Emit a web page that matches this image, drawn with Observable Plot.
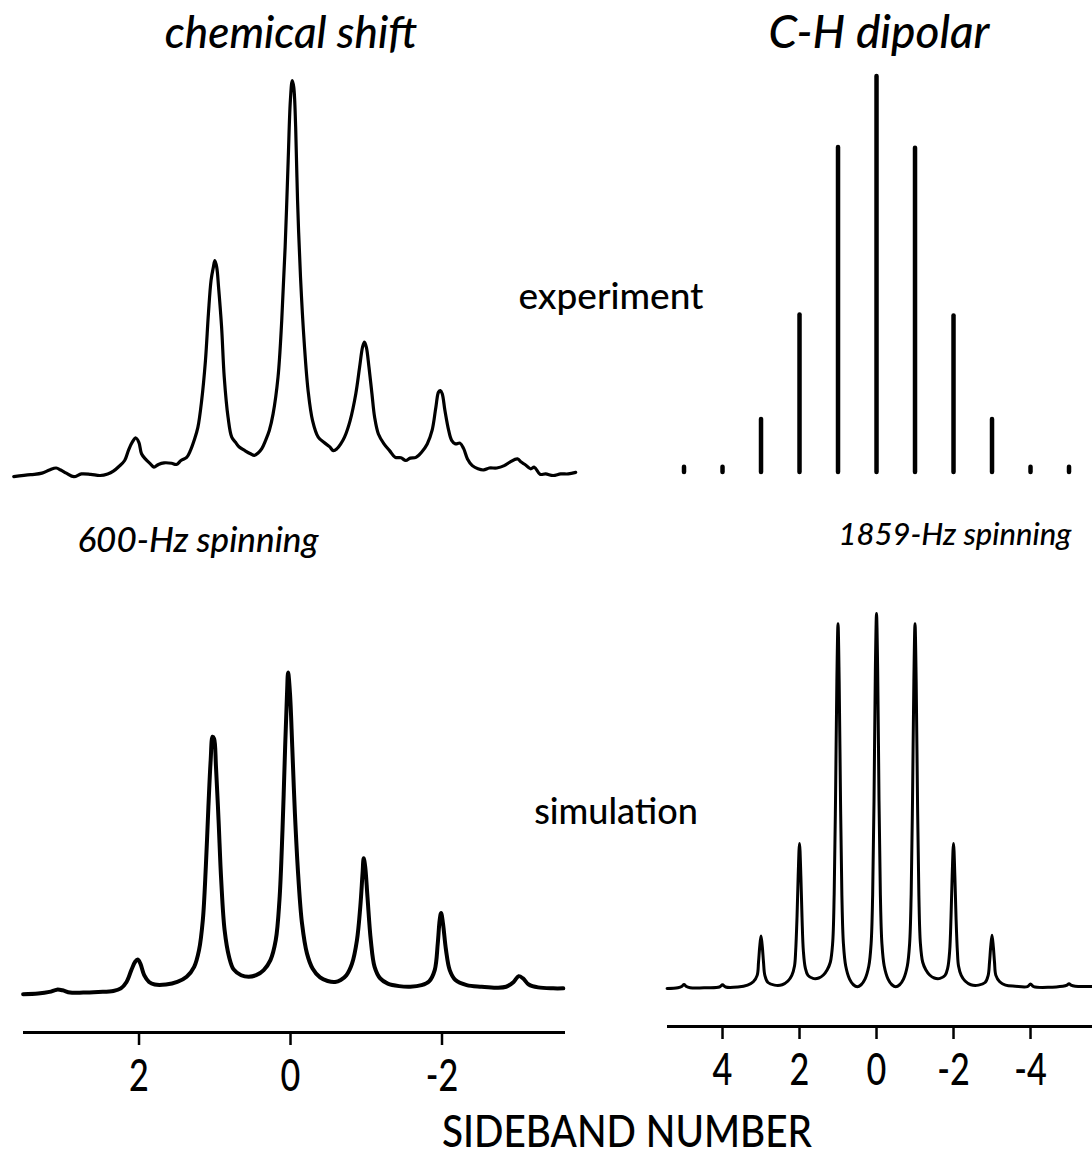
<!DOCTYPE html>
<html><head><meta charset="utf-8">
<script src="https://cdn.jsdelivr.net/npm/d3@7"></script>
<script src="https://cdn.jsdelivr.net/npm/@observablehq/plot@0.6"></script>
<style>
html,body{margin:0;padding:0;background:#fff;}
#wrap{position:relative;width:1092px;height:1156px;overflow:hidden;font-family:Lato,"Noto Sans",sans-serif;color:#000;font-weight:500;}
#wrap svg{position:absolute;left:0;top:0;}
.lbl{position:absolute;white-space:nowrap;transform:translate(-50%,-50%);line-height:1;}
.it{font-style:italic;}
</style></head><body><div id="wrap"></div>
<script>
// ---- data: sideband number (n) and intensity (I, main peak = 100) ----
// chemical shift, experiment (600-Hz spinning)
const csExpN = [3.654,3.431,3.282,3.183,3.094,3.034,2.960,2.860,2.761,2.637,
2.513,2.414,2.339,2.265,2.190,2.141,2.091,2.041,2.002,1.967,
1.917,1.853,1.803,1.744,1.669,1.570,1.505,1.446,1.371,1.322,
1.272,1.223,1.173,1.123,1.084,1.049,1.019,0.999,0.974,0.950,
0.910,0.875,0.825,0.776,0.726,0.677,0.602,0.528,0.478,0.428,
0.379,0.329,0.280,0.230,0.165,0.116,0.071,0.031,0.002,-0.023,
-0.043,-0.068,-0.093,-0.132,-0.182,-0.232,-0.291,-0.366,-0.440,-0.515,
-0.564,-0.614,-0.663,-0.713,-0.787,-0.862,-0.912,-0.951,-0.976,-1.001,
-1.036,-1.075,-1.110,-1.160,-1.234,-1.308,-1.383,-1.457,-1.522,-1.581,
-1.656,-1.730,-1.805,-1.869,-1.919,-1.954,-1.979,-2.003,-2.038,-2.088,
-2.127,-2.177,-2.237,-2.286,-2.336,-2.400,-2.475,-2.549,-2.624,-2.723,
-2.822,-2.897,-2.996,-3.045,-3.095,-3.169,-3.219,-3.294,-3.368,-3.467,
-3.567,-3.666,-3.765];
const csExpI = [-0.3,0.2,0.6,1.4,1.9,1.4,0.6,-0.3,0.4,0.3,
0,0.4,1.1,2.3,3.8,6.3,8.4,9.5,8.4,5.5,
4.2,3.0,2.1,2.8,3.2,3.1,2.8,3.8,4.6,6.3,
8.9,12.2,19.0,29.1,40.9,49.4,52.7,54.4,52.7,47.7,
37.6,24.9,14.8,9.7,8.4,7.2,6.3,5.5,5.1,5.7,
6.8,8.9,11.4,15.6,24.9,39.2,57.8,79.7,94.9,100,
98.3,88.2,69.6,50.2,33.3,21.5,13.9,9.7,8.4,7.3,
6.3,6.8,8.0,9.7,13.9,20.7,27.4,32.5,33.8,32.5,
27.4,20.7,14.8,10.5,8.0,6.3,4.6,4.5,3.8,4.4,
4.6,5.9,8.0,11.4,17.3,21.1,21.5,20.7,16.5,11.4,
8.9,8.0,8.2,6.8,4.2,2.5,1.7,1.4,1.9,1.9,
2.5,3.4,4.2,3.4,2.8,1.7,2.1,0.3,0.4,0,
0.4,0.4,0.8];

// chemical shift, simulation
const csSimN = [3.530,3.332,3.183,3.084,3.009,2.910,2.736,2.538,2.339,2.240,
2.165,2.101,2.051,2.017,1.982,1.932,1.868,1.793,1.644,1.495,
1.371,1.272,1.208,1.158,1.118,1.084,1.054,1.029,1.009,0.984,
0.950,0.915,0.870,0.811,0.751,0.652,0.553,0.453,0.354,0.265,
0.195,0.146,0.106,0.071,0.046,0.032,0.007,-0.023,-0.058,-0.103,
-0.152,-0.217,-0.291,-0.390,-0.490,-0.589,-0.663,-0.738,-0.812,-0.877,
-0.921,-0.951,-0.966,-0.986,-1.016,-1.060,-1.110,-1.184,-1.284,-1.433,
-1.581,-1.730,-1.830,-1.904,-1.944,-1.969,-1.988,-2.013,-2.053,-2.102,
-2.177,-2.326,-2.524,-2.723,-2.847,-2.946,-3.011,-3.070,-3.145,-3.269,
-3.467,-3.601];
const csSimI = [-0.2,0,0.5,1.2,1.0,0.3,0.3,0.5,0.8,1.6,
3.6,7.3,9.9,10.6,9.3,5.7,3.6,2.8,2.8,3.6,
5.2,8.3,13.5,22.8,39.5,58.2,72.7,80.0,79.4,70.6,
54.0,35.3,19.7,11.4,7.5,5.7,5.2,5.7,7.3,10.4,
16.6,29.1,50.9,76.8,93.5,100,93.5,76.8,56.1,36.3,
21.8,12.5,7.8,5.0,3.9,3.6,4.2,5.7,9.3,16.6,
27.0,37.4,42.1,39.5,30.1,16.6,8.3,4.7,3.1,2.3,
2.1,2.6,3.8,7.3,15.6,22.8,25.1,21.8,13.5,7.3,
4.2,2.6,2.1,1.8,2.1,3.6,5.4,4.7,2.8,1.9,
1.6,1.6];

// C-H dipolar, experiment (1859-Hz spinning): sideband intensities
const dipExpN = [5,4,3,2,1,0,-1,-2,-3,-4,-5];
const dipExpI = [1.3,1.3,13.4,39.8,82.1,100,81.9,39.5,13.4,1.3,1.3];

// C-H dipolar, simulation
const dipSimN = [5.44,5.16,5.05,5.0,4.95,4.84,4.4,4.08,4.0,3.92,
3.6,3.35,3.2,3.1,3.065,3.035,3.0,2.965,2.935,2.9,
2.82,2.65,2.45,2.3,2.2,2.13,2.1,2.065,2.035,2.0,
1.965,1.935,1.9,1.85,1.78,1.65,1.5,1.38,1.28,1.2,
1.14,1.1,1.065,1.03,1.0,0.97,0.935,0.9,0.86,0.8,
0.7,0.6,0.5,0.4,0.3,0.2,0.14,0.1,0.065,0.03,
0,-0.03,-0.065,-0.1,-0.14,-0.2,-0.3,-0.4,-0.5,-0.6,
-0.7,-0.8,-0.86,-0.9,-0.935,-0.97,-1.0,-1.03,-1.065,-1.1,
-1.14,-1.2,-1.28,-1.38,-1.5,-1.65,-1.78,-1.85,-1.9,-1.935,
-1.965,-2.0,-2.035,-2.065,-2.1,-2.13,-2.2,-2.3,-2.45,-2.65,
-2.82,-2.9,-2.935,-2.965,-3.0,-3.035,-3.065,-3.1,-3.2,-3.35,
-3.6,-3.92,-4.0,-4.08,-4.84,-4.95,-5.0,-5.05,-5.16,-5.72];
const dipSimI = [0,0.2,0.6,1.1,0.6,0.2,0.2,0.4,1.0,0.4,
0.4,0.9,1.8,3.5,7,11,14,11,7,3.5,
1.6,0.9,1.0,2.0,3.5,6,10,19,30,38.7,
30,19,10,5.5,3.5,2.7,2.8,3.6,5,7,
12,25,50,82,97.3,82,50,25,12,6,
2.5,1.0,0.5,1.0,2.5,6,12,25,50,85,
100,85,50,25,12,6,2.5,1.0,0.5,1.0,
2.5,6,12,25,50,82,97.3,82,50,25,
12,7,5,3.6,2.8,2.7,3.5,5.5,10,19,
30,38.7,30,19,10,6,3.5,2.0,1.0,0.9,
1.6,3.5,7,11,14.2,11,7,3.5,1.8,0.9,
0.6,0.5,1.2,0.5,0.6,0.9,1.3,0.9,0.6,0.6];

const leftTicks = [2, 0, -2];
const rightTicks = [4, 2, 0, -2, -4];

const titles = ["chemical shift", "C-H dipolar"];
const rowLabels = ["experiment", "simulation"];
const spinLabels = ["600-Hz spinning", "1859-Hz spinning"];
const axisTitle = "SIDEBAND NUMBER";

// ---- build tables ----
const zipT = (N, I) => N.map((n, i) => ({n, I: I[i]}));
const csExp = zipT(csExpN, csExpI);
const csSim = zipT(csSimN, csSimI);
const dipExp = zipT(dipExpN, dipExpI);
const dipSim = zipT(dipSimN, dipSimI);

const W = 1092, H = 1156;
const wrap = document.getElementById("wrap");
const base = {width: W, height: H, marginTop: 0, style: {background: "transparent", fontFamily: "Lato, 'Noto Sans', sans-serif", fontWeight: 500, color: "black", overflow: "visible"}};
const leftX = {domain: [3.512, -3.604], axis: null};
const rightX = {domain: [5.403, -5.558], axis: null};

function condense(svg, k) {
  svg.querySelectorAll('[aria-label="x-axis tick label"] text').forEach(t => {
    const tr = t.getAttribute("transform");
    if (tr) t.setAttribute("transform", tr + ` scale(${k},1)`);
    else {
      const x = +t.getAttribute("x") || 0, y = +t.getAttribute("y") || 0;
      t.removeAttribute("x"); t.removeAttribute("y");
      t.setAttribute("transform", `translate(${x},${y}) scale(${k},1)`);
    }
  });
}

const plots = [
  Plot.plot({...base, marginLeft: 24, marginRight: W - 563, marginBottom: H - 1032,
    x: leftX, y: {domain: [0, 100], range: [475, 80], axis: null},
    marks: [Plot.line(csExp, {x: "n", y: "I", stroke: "black", strokeWidth: 3.2, curve: "catmull-rom"})]}),
  Plot.plot({...base, marginLeft: 668, marginRight: W - 1090, marginBottom: H - 1026,
    x: rightX, y: {domain: [0, 100], range: [472, 76], axis: null},
    marks: [Plot.ruleX(dipExp, {x: "n", y1: 0, y2: "I", stroke: "black", strokeWidth: 4.5, strokeLinecap: "round"})]}),
  Plot.plot({...base, marginLeft: 24, marginRight: W - 563, marginBottom: H - 1032,
    x: leftX, y: {domain: [0, 100], range: [993, 672], axis: null},
    marks: [
      Plot.line(csSim, {x: "n", y: "I", stroke: "black", strokeWidth: 4, curve: "catmull-rom"}),
      Plot.frame({anchor: "bottom", stroke: "black", strokeWidth: 3}),
      Plot.axisX(leftTicks, {anchor: "bottom", tickSize: 13, tickPadding: 14, fontSize: 45, fontWeight: 500, strokeWidth: 2.5, tickFormat: d => String(d), label: null})
    ]}),
  Plot.plot({...base, marginLeft: 668, marginRight: W - 1090, marginBottom: H - 1026,
    x: rightX, y: {domain: [0, 100], range: [988, 613], axis: null},
    marks: [
      Plot.line(dipSim, {x: "n", y: "I", stroke: "black", strokeWidth: 3, curve: "catmull-rom"}),
      Plot.frame({anchor: "bottom", stroke: "black", strokeWidth: 3}),
      Plot.axisX(rightTicks, {anchor: "bottom", tickSize: 13, tickPadding: 14, fontSize: 45, fontWeight: 500, strokeWidth: 2.5, tickFormat: d => String(d), label: null})
    ]})
];
plots.forEach((p, i) => { if (i >= 2) condense(p, 0.76); wrap.appendChild(p); });

// ---- text labels ----
function label(text, x, y, size, cls, sx) {
  const d = document.createElement("div");
  d.className = "lbl " + (cls || "");
  d.textContent = text;
  d.style.left = x + "px"; d.style.top = y + "px"; d.style.fontSize = size + "px";
  if (sx) d.style.transform = `translate(-50%,-50%) scaleX(${sx})`;
  wrap.appendChild(d);
}
label(titles[0], 291, 31, 44, "it");
label(titles[1], 879, 31, 46, "it");
label(rowLabels[0], 611, 294, 37);
label(rowLabels[1], 616, 810, 36);
label(spinLabels[0], 198, 538, 35, "it");
label(spinLabels[1], 955, 533, 31, "it");
label(axisTitle, 627, 1130, 45, "", 0.86);
</script></body></html>
